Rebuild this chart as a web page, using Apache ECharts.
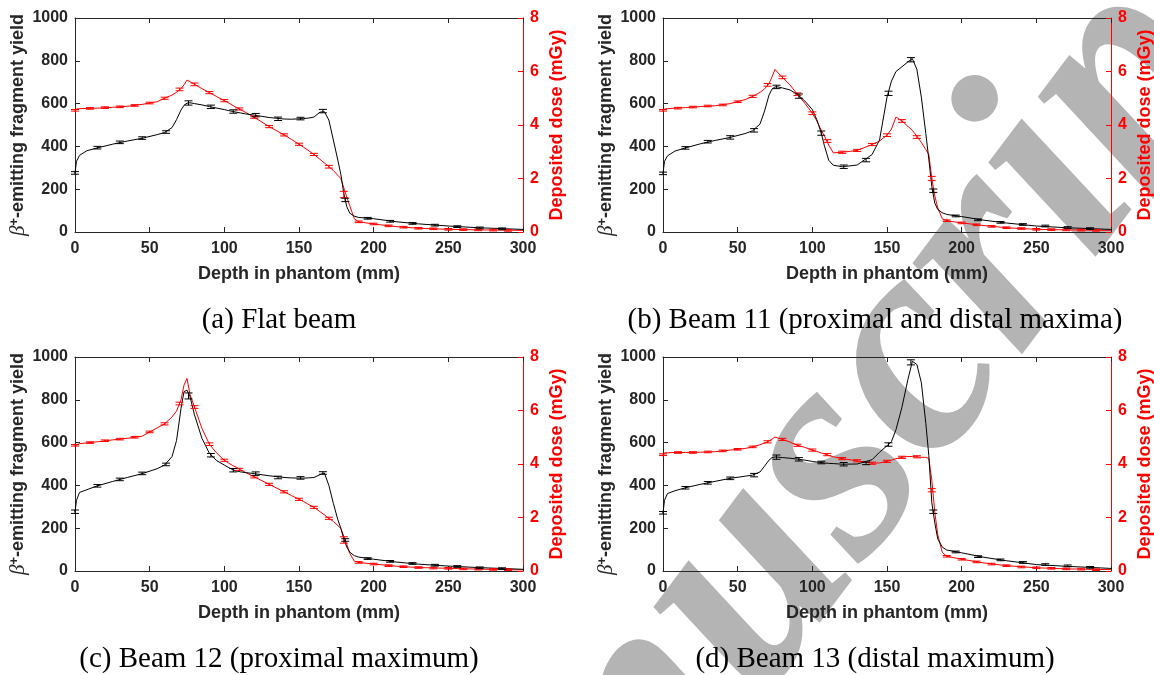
<!DOCTYPE html>
<html>
<head>
<meta charset="utf-8">
<script src="https://cdn.jsdelivr.net/npm/echarts@6/dist/echarts.min.js"></script>
<style>
  html, body { margin: 0; padding: 0; background: #fff; }
  #chart { width: 1154px; height: 675px; }
</style>
</head>
<body>
<div id="chart"></div>
<script>
// depth grid shared by all line curves (mm)
const depth = [0, 1, 3, 8, 15, 25, 35, 45, 55, 60, 65, 68, 71, 73, 75, 77, 80, 85, 90, 95,
  100, 103, 106, 108, 111, 114, 120, 130, 140, 145, 150, 153, 156, 160, 164, 167, 170, 173, 176, 178,
  180, 182, 184, 187, 190, 200, 215, 230, 250, 270, 300, 330];

// beta+ emitting fragment yield (left axis) and deposited dose in mGy (right axis)
const yieldFlat = [276, 330, 358, 380, 393, 410, 425, 438, 455, 465, 488, 525, 570, 592, 602, 604, 600, 594, 586, 579,
  572, 567, 563, 560, 556, 552, 546, 535, 528, 527, 529, 530, 532, 537, 560, 562, 523, 430, 336, 270,
  180, 118, 88, 74, 68, 62, 48, 38, 28, 20, 12, 7];
const doseFlat = [4.5, 4.6, 4.61, 4.62, 4.63, 4.66, 4.7, 4.77, 4.87, 5.0, 5.12, 5.22, 5.36, 5.5, 5.68, 5.62, 5.52, 5.36, 5.21, 5.06,
  4.91, 4.82, 4.72, 4.66, 4.57, 4.48, 4.29, 3.94, 3.63, 3.46, 3.28, 3.17, 3.06, 2.9, 2.72, 2.58, 2.44, 2.3, 2.12, 2.0,
  1.65, 1.3, 0.98, 0.5, 0.38, 0.3, 0.2, 0.14, 0.1, 0.08, 0.06, null];

const yieldBeam11 = [274, 330, 356, 378, 393, 412, 428, 442, 460, 473, 505, 565, 640, 668, 678, 678, 673, 664, 643, 612,
  572, 525, 462, 405, 335, 312, 305, 313, 362, 430, 630, 705, 750, 772, 795, 810, 760, 630, 460, 340,
  212, 135, 105, 90, 82, 72, 55, 42, 28, 20, 12, 8];
const doseBeam11 = [4.5, 4.6, 4.61, 4.63, 4.65, 4.69, 4.72, 4.8, 4.95, 5.07, 5.22, 5.35, 5.55, 5.8, 6.08, 5.95, 5.78, 5.5, 5.15, 4.81,
  4.44, 4.15, 3.8, 3.6, 3.25, 2.96, 2.98, 3.05, 3.27, 3.4, 3.62, 3.85, 4.3, 4.15, 3.95, 3.8, 3.58, 3.35, 3.08, 2.9,
  2.0, 1.35, 0.9, 0.5, 0.42, 0.34, 0.24, 0.16, 0.1, 0.08, 0.06, null];

const yieldBeam12 = [277, 330, 367, 380, 398, 418, 437, 455, 478, 495, 535, 610, 760, 838, 845, 815, 730, 620, 550, 515,
  495, 483, 472, 468, 463, 460, 455, 445, 437, 435, 434, 434, 435, 437, 450, 458, 400, 316, 240, 200,
  150, 112, 88, 72, 65, 55, 42, 32, 23, 16, 8, 5];
const doseBeam12 = [4.67, 4.74, 4.76, 4.79, 4.83, 4.9, 4.96, 5.04, 5.35, 5.5, 5.76, 5.98, 6.4, 6.95, 7.2, 6.6, 6.13, 5.33, 4.74, 4.4,
  4.14, 4.03, 3.93, 3.88, 3.78, 3.69, 3.52, 3.24, 2.96, 2.82, 2.68, 2.6, 2.5, 2.38, 2.22, 2.1, 1.97, 1.85, 1.7, 1.59,
  1.3, 1.0, 0.66, 0.37, 0.32, 0.26, 0.18, 0.13, 0.1, 0.07, 0.04, null];

const yieldBeam13 = [272, 330, 362, 375, 389, 405, 419, 433, 443, 448, 463, 490, 518, 530, 533, 532, 530, 527, 523, 518,
  512, 509, 507, 505, 503, 502, 499, 500, 520, 555, 585, 605, 660, 765, 895, 980, 965, 880, 690, 540,
  320, 225, 150, 112, 98, 85, 64, 48, 30, 22, 12, 8];
const doseBeam13 = [4.27, 4.42, 4.42, 4.43, 4.43, 4.44, 4.46, 4.52, 4.58, 4.64, 4.72, 4.78, 4.86, 4.93, 5.01, 4.97, 4.92, 4.82, 4.7, 4.62,
  4.52, 4.47, 4.41, 4.38, 4.32, 4.27, 4.2, 4.12, 4.03, 4.04, 4.1, 4.14, 4.2, 4.25, 4.28, 4.28, 4.27, 4.25, 4.25, 4.2,
  3.4, 2.2, 1.35, 0.7, 0.55, 0.44, 0.3, 0.2, 0.12, 0.08, 0.05, null];

// error bar positions (mm)
const yieldBarDepth = [0, 15, 30, 45, 61, 76, 91, 106, 121, 136, 151, 166, 181, 196, 211, 226, 241, 256, 271, 286];
const doseBarDepth = [0, 10, 20, 30, 40, 50, 60, 70, 80, 90, 100, 110, 120, 130, 140, 150, 160, 170, 180, 190,
  200, 210, 220, 230, 240, 250, 260, 270, 280, 290];

const yieldBarFlat = [276, 394, 419, 439, 467, 603, 585, 563, 546, 529, 530, 565, 150, 64, 50, 40, 32, 25, 19, 15];
const yieldErrFlat = [6, 6, 6, 6, 6, 10, 8, 8, 8, 8, 6, 8, 8, 4, 4, 4, 4, 4, 4, 4];
const doseBarFlat = [4.55, 4.62, 4.65, 4.68, 4.73, 4.82, 5.0, 5.33, 5.52, 5.21, 4.91, 4.6, 4.29, 3.94, 3.63, 3.28, 2.9, 2.44, 1.4, 0.38,
  0.3, 0.23, 0.18, 0.14, 0.12, 0.1, 0.09, 0.08, 0.07, 0.06];
const doseErrFlat = [0.03, 0.03, 0.03, 0.03, 0.03, 0.03, 0.04, 0.05, 0.05, 0.04, 0.04, 0.04, 0.04, 0.04, 0.04, 0.04, 0.04, 0.05, 0.12, 0.03,
  0.03, 0.03, 0.03, 0.03, 0.03, 0.03, 0.03, 0.03, 0.03, 0.03];

const yieldBarBeam11 = [274, 393, 422, 442, 475, 678, 635, 462, 305, 336, 648, 805, 193, 75, 57, 45, 35, 28, 21, 16];
const yieldErrBeam11 = [6, 6, 6, 8, 8, 8, 10, 10, 8, 8, 10, 10, 8, 4, 4, 4, 4, 4, 4, 4];
const doseBarBeam11 = [4.55, 4.63, 4.67, 4.71, 4.75, 4.87, 5.07, 5.5, 5.78, 5.15, 4.44, 3.4, 2.98, 3.05, 3.27, 3.62, 4.15, 3.55, 2.0, 0.42,
  0.34, 0.27, 0.21, 0.16, 0.13, 0.1, 0.09, 0.08, 0.07, 0.06];
const doseErrBeam11 = [0.03, 0.03, 0.03, 0.03, 0.03, 0.03, 0.04, 0.05, 0.05, 0.05, 0.05, 0.05, 0.04, 0.04, 0.04, 0.05, 0.05, 0.05, 0.08, 0.03,
  0.03, 0.03, 0.03, 0.03, 0.03, 0.03, 0.03, 0.03, 0.03, 0.03];

const yieldBarBeam12 = [277, 398, 428, 456, 498, 818, 541, 471, 455, 437, 435, 458, 145, 58, 45, 35, 27, 21, 15, 11];
const yieldErrBeam12 = [8, 6, 6, 6, 6, 14, 8, 8, 8, 6, 6, 6, 6, 4, 4, 4, 4, 4, 4, 4];
const doseBarBeam12 = [4.7, 4.8, 4.87, 4.93, 5.0, 5.2, 5.5, 6.26, 6.13, 4.74, 4.14, 3.8, 3.52, 3.24, 2.96, 2.68, 2.38, 1.97, 1.16, 0.32,
  0.26, 0.2, 0.16, 0.13, 0.11, 0.1, 0.08, 0.07, 0.06, 0.05];
const doseErrBeam12 = [0.03, 0.03, 0.03, 0.03, 0.03, 0.03, 0.04, 0.05, 0.05, 0.05, 0.04, 0.04, 0.04, 0.04, 0.04, 0.04, 0.04, 0.04, 0.12, 0.03,
  0.03, 0.03, 0.03, 0.03, 0.03, 0.03, 0.03, 0.03, 0.03, 0.03];

const yieldBarBeam13 = [272, 389, 412, 433, 448, 532, 522, 507, 499, 503, 591, 975, 277, 89, 67, 52, 40, 30, 24, 17];
const yieldErrBeam13 = [6, 6, 6, 6, 8, 10, 8, 6, 8, 6, 8, 12, 8, 4, 4, 4, 4, 4, 4, 4];
const doseBarBeam13 = [4.35, 4.43, 4.43, 4.45, 4.49, 4.55, 4.64, 4.83, 4.92, 4.7, 4.52, 4.35, 4.2, 4.12, 4.03, 4.1, 4.25, 4.27, 3.02, 0.55,
  0.44, 0.34, 0.26, 0.2, 0.15, 0.12, 0.1, 0.08, 0.07, 0.05];
const doseErrBeam13 = [0.03, 0.03, 0.03, 0.03, 0.03, 0.03, 0.03, 0.04, 0.04, 0.04, 0.04, 0.04, 0.04, 0.04, 0.04, 0.04, 0.04, 0.04, 0.06, 0.03,
  0.03, 0.03, 0.03, 0.03, 0.03, 0.03, 0.03, 0.03, 0.03, 0.03];

const captions = [
  '(a) Flat beam',
  '(b) Beam 11 (proximal and distal maxima)',
  '(c) Beam 12 (proximal maximum)',
  '(d) Beam 13 (distal maximum)'
];

(function () {
  const chart = echarts.init(document.getElementById('chart'), null, { renderer: 'canvas' });

  const panels = [
    { y: yieldFlat, d: doseFlat, yb: yieldBarFlat, ye: yieldErrFlat, db: doseBarFlat, de: doseErrFlat },
    { y: yieldBeam11, d: doseBeam11, yb: yieldBarBeam11, ye: yieldErrBeam11, db: doseBarBeam11, de: doseErrBeam11 },
    { y: yieldBeam12, d: doseBeam12, yb: yieldBarBeam12, ye: yieldErrBeam12, db: doseBarBeam12, de: doseErrBeam12 },
    { y: yieldBeam13, d: doseBeam13, yb: yieldBarBeam13, ye: yieldErrBeam13, db: doseBarBeam13, de: doseErrBeam13 }
  ];

  // panel placement: left column / right column, top row / bottom row
  const pos = [[75, 18], [663, 18], [75, 357], [663, 357]];
  const capPos = [[279, 320], [875, 320], [279, 659], [875, 659]];

  const ink = '#262626';
  const red = '#ff0000';
  const sans = 'Liberation Sans, Arial, sans-serif';
  const tickFont = { fontFamily: sans, fontWeight: 'bold', fontSize: 16, color: ink };
  const nameFont = { fontFamily: sans, fontWeight: 'bold', fontSize: 18, color: ink };
  const plain = v => String(v);

  // vertical error bar with caps, placed through the axis scales
  const errorBar = (half, color) => (params, api) => {
    const x = api.value(0), v = api.value(1), e = api.value(2);
    const hi = api.coord([x, v + e]);
    const lo = api.coord([x, v - e]);
    const style = { stroke: color, lineWidth: 1 };
    return {
      type: 'group',
      children: [
        { type: 'line', shape: { x1: hi[0], y1: hi[1], x2: lo[0], y2: lo[1] }, style },
        { type: 'line', shape: { x1: hi[0] - half, y1: hi[1], x2: hi[0] + half, y2: hi[1] }, style },
        { type: 'line', shape: { x1: lo[0] - half, y1: lo[1], x2: lo[0] + half, y2: lo[1] }, style }
      ]
    };
  };

  const grid = [], xAxis = [], yAxis = [], series = [];

  panels.forEach((p, i) => {
    grid.push({ left: pos[i][0], top: pos[i][1], width: 448, height: 214, containLabel: false, outerBoundsMode: 'none' });

    xAxis[i] = {
      type: 'value', gridIndex: i, position: 'bottom', min: 0, max: 300, interval: 50,
      axisLine: { show: true, onZero: false, lineStyle: { color: ink, width: 1 } },
      axisTick: { show: true, inside: true, length: 5, lineStyle: { color: ink } },
      axisLabel: Object.assign({ margin: 9, formatter: plain }, tickFont),
      splitLine: { show: false },
      name: 'Depth in phantom (mm)', nameLocation: 'middle', nameGap: 33,
      nameTextStyle: nameFont
    };
    // top frame line with inward ticks
    xAxis[4 + i] = {
      type: 'value', gridIndex: i, position: 'top', min: 0, max: 300, interval: 50,
      axisLine: { show: true, onZero: false, lineStyle: { color: ink, width: 1 } },
      axisTick: { show: true, inside: true, length: 5, lineStyle: { color: ink } },
      axisLabel: { show: false },
      splitLine: { show: false }
    };

    yAxis[2 * i] = {
      type: 'value', gridIndex: i, position: 'left', min: 0, max: 1000, interval: 200,
      axisLine: { show: true, onZero: false, lineStyle: { color: ink, width: 1 } },
      axisTick: { show: true, inside: true, length: 5, lineStyle: { color: ink } },
      axisLabel: Object.assign({ margin: 7, formatter: plain }, tickFont),
      splitLine: { show: false },
      name: '{b|β}{s|+}-emitting fragment yield', nameLocation: 'middle', nameGap: 41, nameRotate: 90,
      nameTextStyle: Object.assign({}, nameFont, {
        rich: {
          b: { fontFamily: 'Liberation Serif, serif', fontStyle: 'italic', fontWeight: 'normal', fontSize: 21, color: ink },
          s: { fontFamily: sans, fontWeight: 'bold', fontSize: 13, color: ink, verticalAlign: 'top', padding: [0, 0, 8, 0] }
        }
      })
    };
    yAxis[2 * i + 1] = {
      type: 'value', gridIndex: i, position: 'right', min: 0, max: 8, interval: 2,
      axisLine: { show: true, onZero: false, lineStyle: { color: red, width: 1 } },
      axisTick: { show: true, inside: true, length: 5, lineStyle: { color: red } },
      axisLabel: Object.assign({}, tickFont, { color: red, margin: 7, formatter: plain }),
      splitLine: { show: false },
      name: 'Deposited dose (mGy)', nameLocation: 'middle', nameGap: 25, nameRotate: 90,
      nameTextStyle: Object.assign({}, nameFont, { color: red })
    };

    series.push({
      type: 'line', xAxisIndex: i, yAxisIndex: 2 * i + 1, showSymbol: false, clip: true,
      lineStyle: { color: red, width: 1 }, itemStyle: { color: red },
      data: depth.map((d, k) => [d, p.d[k]]), z: 3, silent: true, animation: false
    });
    series.push({
      type: 'line', xAxisIndex: i, yAxisIndex: 2 * i, showSymbol: false, clip: false,
      lineStyle: { color: '#000', width: 1 }, itemStyle: { color: '#000' },
      data: depth.map((d, k) => [d, p.y[k]]), z: 4, silent: true, animation: false
    });
    series.push({
      type: 'custom', xAxisIndex: i, yAxisIndex: 2 * i + 1, renderItem: errorBar(4, red),
      data: doseBarDepth.map((d, k) => [d, p.db[k], p.de[k]]), encode: { x: 0, y: 1 }, z: 5, silent: true
    });
    series.push({
      type: 'custom', xAxisIndex: i, yAxisIndex: 2 * i, renderItem: errorBar(4, '#000'),
      data: yieldBarDepth.map((d, k) => [d, p.yb[k], p.ye[k]]), encode: { x: 0, y: 1 }, z: 6, silent: true
    });
  });

  const graphic = [
    // watermark behind everything
    {
      type: 'text', x: 778, y: 545, rotation: 53 * Math.PI / 180, z: -10, silent: true,
      style: {
        text: 'Manuscript', fill: '#b4b4b4', fontFamily: 'Liberation Serif, serif',
        fontStyle: 'italic', fontWeight: 'bold', fontSize: 310, align: 'center', verticalAlign: 'middle'
      }
    }
  ].concat(captions.map((c, i) => ({
    type: 'text', x: capPos[i][0], y: capPos[i][1], z: 10, silent: true,
    style: {
      text: c, fill: '#000', fontFamily: 'Liberation Serif, serif', fontSize: 29,
      align: 'center', verticalAlign: 'middle'
    }
  })));

  chart.setOption({
    backgroundColor: '#fff',
    animation: false,
    grid, xAxis, yAxis, series, graphic
  });

  window.addEventListener('resize', () => chart.resize());
})();
</script>
</body>
</html>
